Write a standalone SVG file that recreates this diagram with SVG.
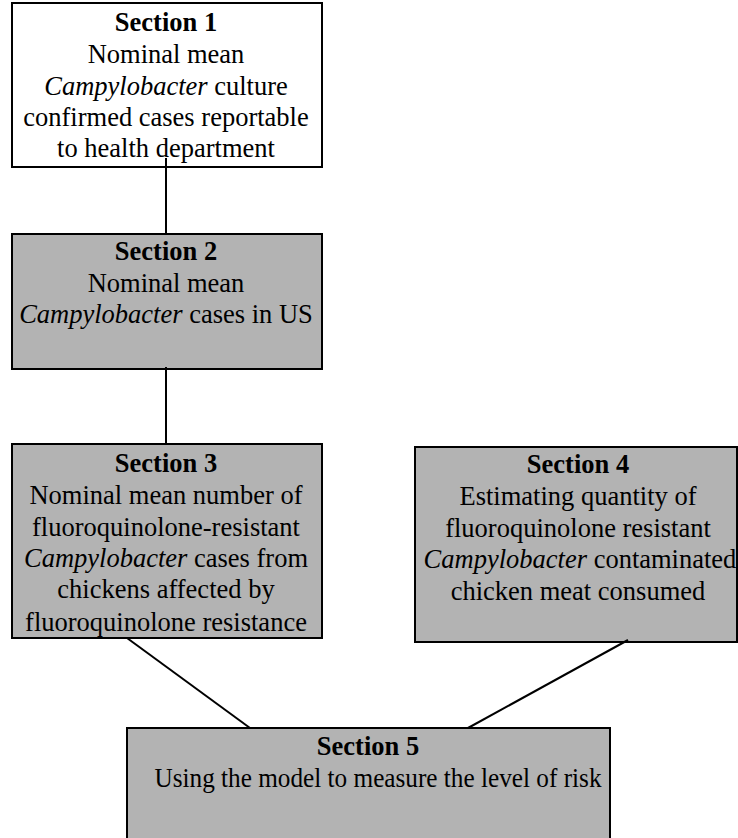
<svg xmlns="http://www.w3.org/2000/svg" width="738" height="838" viewBox="0 0 738 838">
<style>
.box{stroke:#000;stroke-width:2}
.w{fill:#fff}
.g{fill:#b3b3b3}
.b{font-weight:bold}
.i{font-style:italic}
.c{stroke:#000;stroke-width:2;fill:none}
</style>
<rect width="738" height="838" fill="#fff"/>
<g font-family="'Liberation Serif', 'Times New Roman', serif" font-size="26.5" text-anchor="middle" fill="#000">
<g id="section1">
<rect class="box w" x="12" y="3" width="310" height="164"/>
<text x="166" y="31" class="b">Section 1</text>
<text x="166" y="63">Nominal mean</text>
<text x="166" y="95"><tspan class="i">Campylobacter</tspan> culture</text>
<text x="166" y="126">confirmed cases reportable</text>
<text x="166" y="157">to health department</text>
</g>
<g id="section2">
<rect class="box g" x="12" y="234" width="310" height="135"/>
<text x="166" y="260" class="b">Section 2</text>
<text x="166" y="292">Nominal mean</text>
<text x="166" y="323"><tspan class="i">Campylobacter</tspan> cases in US</text>
</g>
<g id="section3">
<rect class="box g" x="12" y="444" width="310" height="194"/>
<text x="166" y="472" class="b">Section 3</text>
<text x="166" y="504">Nominal mean number of</text>
<text x="166" y="536">fluoroquinolone-resistant</text>
<text x="166" y="567"><tspan class="i">Campylobacter</tspan> cases from</text>
<text x="166" y="598">chickens affected by</text>
<text x="166" y="631">fluoroquinolone resistance</text>
</g>
<g id="section4">
<rect class="box g" x="415" y="447" width="322" height="195"/>
<text x="578" y="473" class="b">Section 4</text>
<text x="578" y="505">Estimating quantity of</text>
<text x="578" y="537">fluoroquinolone resistant</text>
<text x="580" y="568"><tspan class="i">Campylobacter</tspan> contaminated</text>
<text x="578" y="600">chicken meat consumed</text>
</g>
<g id="section5">
<rect class="box g" x="127" y="728" width="483" height="130"/>
<text x="368" y="755" class="b">Section 5</text>
<text x="378" y="787" textLength="447" lengthAdjust="spacingAndGlyphs">Using the model to measure the level of risk</text>
</g>
</g>
<g id="connectors">
<line class="c" x1="166" y1="158" x2="166" y2="234"/>
<line class="c" x1="166" y1="367" x2="166" y2="444"/>
<line class="c" x1="127" y1="638" x2="250" y2="728"/>
<line class="c" x1="628" y1="640" x2="468" y2="728"/>
</g>
</svg>
